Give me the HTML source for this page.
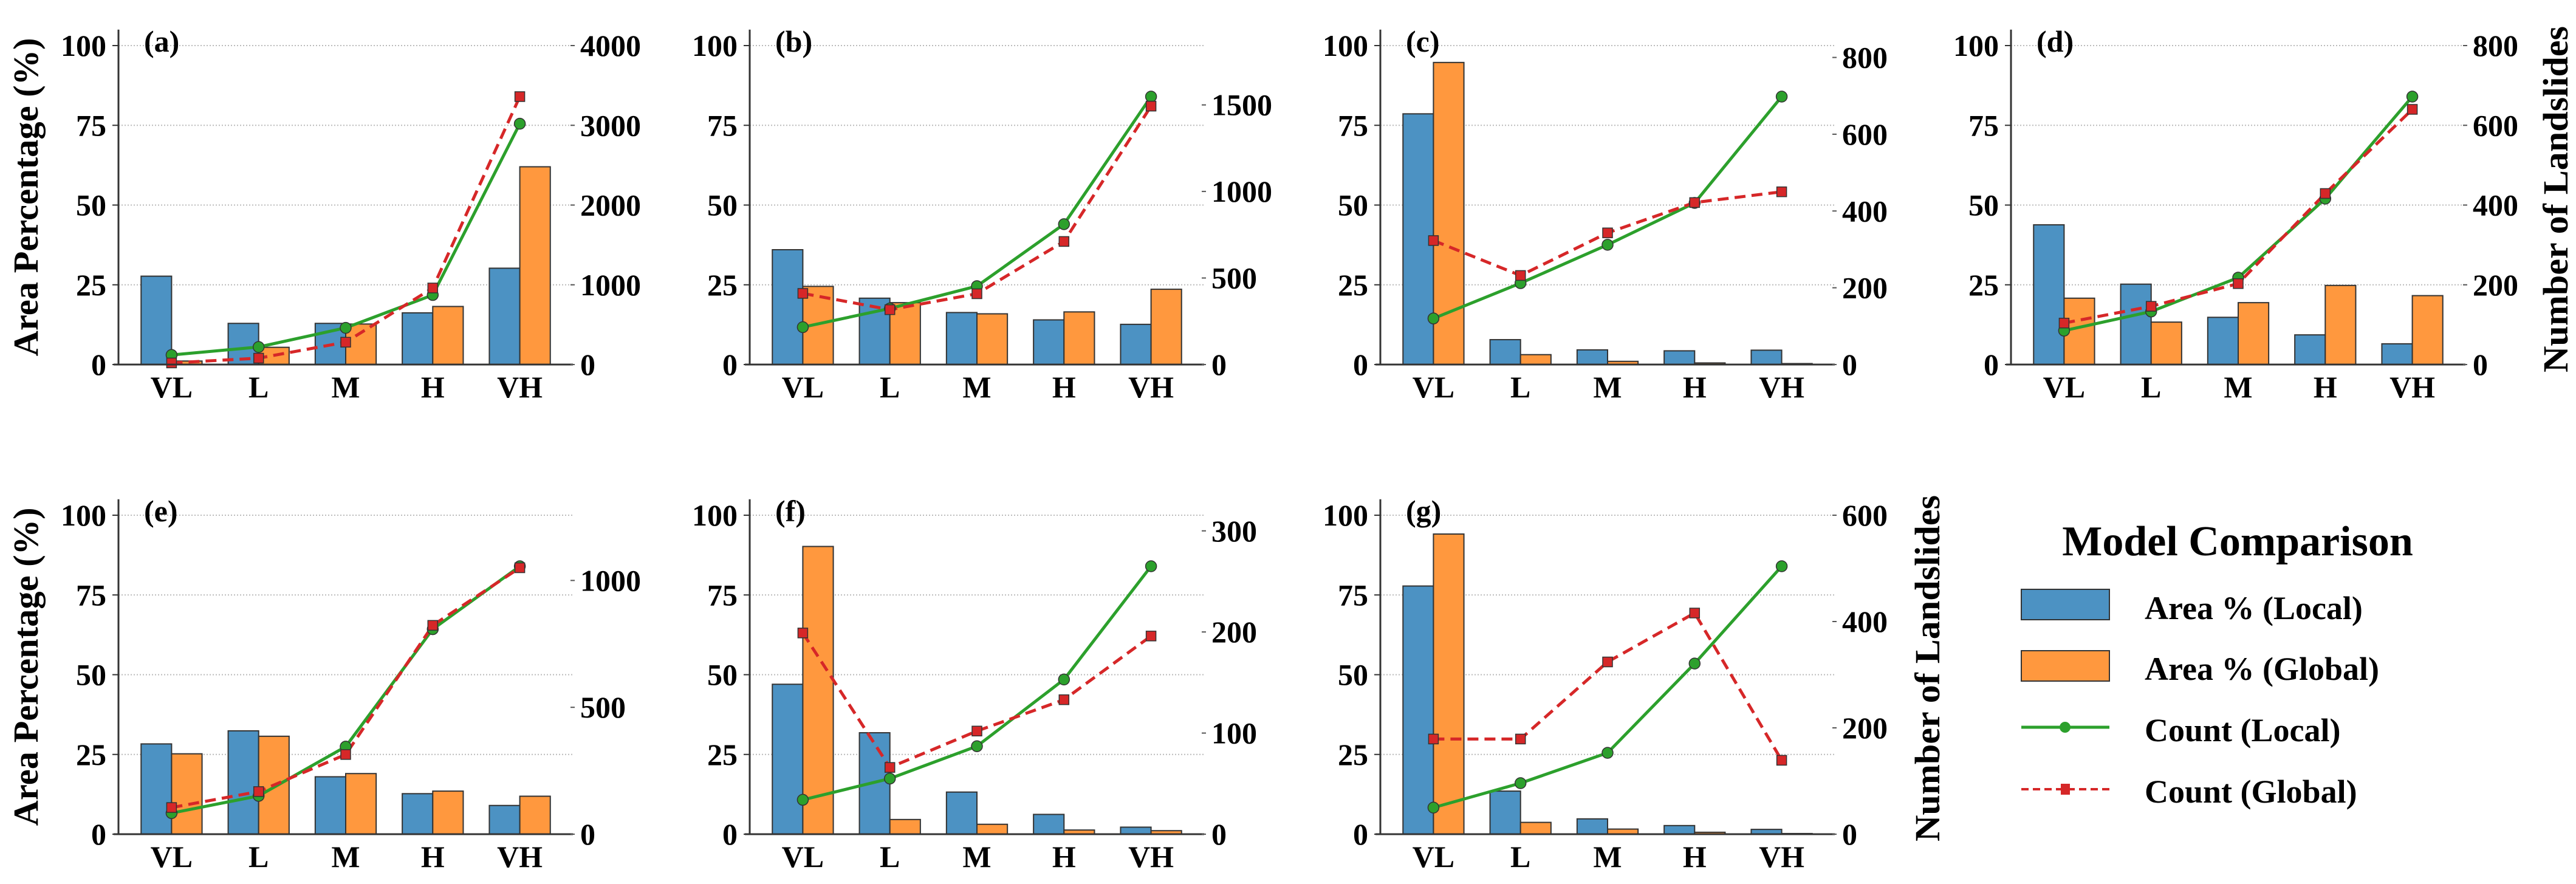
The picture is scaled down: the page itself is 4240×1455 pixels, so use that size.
<!DOCTYPE html>
<html><head><meta charset="utf-8"><style>
html,body{margin:0;padding:0;background:#fff;}
svg{display:block;font-family:"Liberation Serif",serif;font-weight:bold;}
</style></head><body>
<svg id="chart" xmlns="http://www.w3.org/2000/svg" width="4240" height="1455" viewBox="0 0 4240 1455">
<rect width="4240" height="1455" fill="#fff"/>
<g>
  <text x="3683" y="914" font-size="70" text-anchor="middle">Model Comparison</text>
  <rect x="3327" y="970" width="145" height="50" fill="#4c92c3" stroke="#333" stroke-width="2"/>
  <text x="3530" y="1019" font-size="54">Area % (Local)</text>
  <rect x="3327" y="1071" width="145" height="50" fill="#ff983e" stroke="#333" stroke-width="2"/>
  <text x="3530" y="1119" font-size="54">Area % (Global)</text>
  <line x1="3327" y1="1197" x2="3472" y2="1197" stroke="#2ca02c" stroke-width="5"/>
  <circle cx="3399" cy="1197" r="9" fill="#2ca02c"/>
  <text x="3530" y="1220" font-size="54">Count (Local)</text>
  <line x1="3327" y1="1299" x2="3472" y2="1299" stroke="#d62728" stroke-width="4" stroke-dasharray="12,7"/>
  <rect x="3392" y="1290" width="15" height="18" fill="#d62728"/>
  <text x="3530" y="1321" font-size="54">Count (Global)</text>
</g>
</svg>
<script>
const categories = ["VL","L","M","H","VH"];
const panelLabels = ["(a)","(b)","(c)","(d)","(e)","(f)","(g)"];
const areaLocal_a = [27.7,12.9,12.9,16.2,30.2];
const areaGlobal_a = [1.1,5.4,12.7,18.2,62];
const countLocal_a = [120,220,460,872,3020];
const countGlobal_a = [20,80,280,960,3360];
const rightTicks_a = [0,1000,2000,3000,4000];
const areaLocal_b = [36,20.8,16.3,14,12.6];
const areaGlobal_b = [24.5,19.4,15.9,16.5,23.6];
const countLocal_b = [216,324,453,811,1548];
const countGlobal_b = [411,317,409,711,1493];
const rightTicks_b = [0,500,1000,1500];
const areaLocal_c = [78.6,7.8,4.6,4.3,4.5];
const areaGlobal_c = [94.7,3.1,1.0,0.5,0.3];
const countLocal_c = [120,212,312,421,698];
const countGlobal_c = [323,232,343,422,450];
const rightTicks_c = [0,200,400,600,800];
const areaLocal_d = [43.8,25.2,14.8,9.3,6.5];
const areaGlobal_d = [20.8,13.3,19.4,24.8,21.6];
const countLocal_d = [85,133,218,416,672];
const countGlobal_d = [104,146,203,429,640];
const rightTicks_d = [0,200,400,600,800];
const areaLocal_e = [28.3,32.4,18,12.7,9];
const areaGlobal_e = [25.2,30.7,19,13.5,11.9];
const countLocal_e = [83,151,345,808,1056];
const countGlobal_e = [105,168,314,823,1050];
const rightTicks_e = [0,500,1000];
const areaLocal_f = [47,31.8,13.2,6.2,2.2];
const areaGlobal_f = [90.2,4.6,3.1,1.3,1.1];
const countLocal_f = [34,55,87,153,265];
const countGlobal_f = [199,66,102,133,196];
const rightTicks_f = [0,100,200,300];
const areaLocal_g = [77.8,13.5,4.8,2.7,1.5];
const areaGlobal_g = [94.1,3.7,1.6,0.6,0.2];
const countLocal_g = [50,96,153,321,504];
const countGlobal_g = [179,179,324,416,139];
const rightTicks_g = [0,200,400,600];
const leftTicks = [0,25,50,75,100];

const NS = "http://www.w3.org/2000/svg";
const svg = document.getElementById("chart");
function mk(tag, attrs, parent){const e=document.createElementNS(NS,tag);for(const k in attrs)e.setAttribute(k,attrs[k]);(parent||svg).appendChild(e);return e;}

const panels = [
 {x0:195,base:600,al:areaLocal_a,ag:areaGlobal_a,cl:countLocal_a,cg:countGlobal_a,rt:rightTicks_a},
 {x0:1234,base:600,al:areaLocal_b,ag:areaGlobal_b,cl:countLocal_b,cg:countGlobal_b,rt:rightTicks_b},
 {x0:2272,base:600,al:areaLocal_c,ag:areaGlobal_c,cl:countLocal_c,cg:countGlobal_c,rt:rightTicks_c},
 {x0:3310,base:600,al:areaLocal_d,ag:areaGlobal_d,cl:countLocal_d,cg:countGlobal_d,rt:rightTicks_d},
 {x0:195,base:1373,al:areaLocal_e,ag:areaGlobal_e,cl:countLocal_e,cg:countGlobal_e,rt:rightTicks_e},
 {x0:1234,base:1373,al:areaLocal_f,ag:areaGlobal_f,cl:countLocal_f,cg:countGlobal_f,rt:rightTicks_f},
 {x0:2272,base:1373,al:areaLocal_g,ag:areaGlobal_g,cl:countLocal_g,cg:countGlobal_g,rt:rightTicks_g}
];
const W = 748, PXU = 5.25, XMIN = -0.61, XSPAN = 5.22, BW = 0.35;

panels.forEach((p, pi) => {
  const g = mk("g", {});
  
  
  const xs = v => p.x0 + (v - XMIN) / XSPAN * W;
  const yl = v => p.base - v * PXU;
  const cmax = Math.max(...p.cl, ...p.cg);
  const rmax = cmax * 1.25;
  const yr = v => p.base - v / rmax * 105 * PXU;
  const top = yl(105);
  // grid
  leftTicks.slice(1).forEach(t => {
    const gl = mk("line", {x1:p.x0, x2:p.x0+W, y1:yl(t), y2:yl(t), stroke:"#bbb", "stroke-width":2, "stroke-dasharray":"2,3"}, g);
    
    
  });
  // bars
  categories.forEach((c, i) => {
    const b1 = mk("rect", {x:xs(i-BW), y:yl(p.al[i]), width:xs(BW)-xs(0), height:p.al[i]*PXU, fill:"#4c92c3", stroke:"#333", "stroke-width":2}, g);
    
    
    const b2 = mk("rect", {x:xs(i), y:yl(p.ag[i]), width:xs(BW)-xs(0), height:p.ag[i]*PXU, fill:"#ff983e", stroke:"#333", "stroke-width":2}, g);
    
    
  });
  // lines
  const pl = mk("polyline", {points:p.cl.map((v,i)=>xs(i)+","+yr(v)).join(" "), fill:"none", stroke:"#2ca02c", "stroke-width":5}, g);
  
  
  const pg = mk("polyline", {points:p.cg.map((v,i)=>xs(i)+","+yr(v)).join(" "), fill:"none", stroke:"#d62728", "stroke-width":5, "stroke-dasharray":"18,10"}, g);
  
  
  p.cl.forEach((v,i) => {
    const m = mk("circle", {cx:xs(i), cy:yr(v), r:9, fill:"#2ca02c", stroke:"#333", "stroke-width":1.5}, g);
    
    
  });
  p.cg.forEach((v,i) => {
    const m = mk("rect", {x:xs(i)-8, y:yr(v)-8, width:16, height:16, fill:"#d62728", stroke:"#333", "stroke-width":1.5}, g);
    
    
  });
  // spines
  const ls = mk("line", {x1:p.x0, x2:p.x0, y1:top, y2:p.base, stroke:"#333", "stroke-width":3}, g);
  
  
  const bs = mk("line", {x1:p.x0-8, x2:p.x0+W, y1:p.base, y2:p.base, stroke:"#333", "stroke-width":3}, g);
  
  
  // left ticks
  leftTicks.forEach(t => {
    mk("line", {x1:p.x0-10, x2:p.x0, y1:yl(t), y2:yl(t), stroke:"#333", "stroke-width":2}, g);
    const tl = mk("text", {x:p.x0-20, y:yl(t)+17, "font-size":50, "text-anchor":"end"}, g);
    tl.textContent = t;
    
    
  });
  // right ticks
  p.rt.forEach(t => {
    mk("line", {x1:p.x0+W-4, x2:p.x0+W+3, y1:yr(t), y2:yr(t), stroke:"#555", "stroke-width":2}, g);
    const tl = mk("text", {x:p.x0+W+12, y:yr(t)+17, "font-size":50}, g);
    tl.textContent = t;
    
    
  });
  // x ticks
  categories.forEach((c,i) => {
    const xl = mk("text", {x:xs(i), y:p.base+54, "font-size":50, "text-anchor":"middle"}, g);
    xl.textContent = c;
    
    
  });
  const lab = mk("text", {x:p.x0+42, y:top+36, "font-size":50}, g);
  lab.textContent = panelLabels[pi];
  
  
  if (pi === 0 || pi === 4) {
    const cy = (top + p.base) / 2 + 0;
    const yt = mk("text", {x:0, y:0, "font-size":58, "text-anchor":"middle", transform:`translate(62,${cy}) rotate(-90)`, textLength:524, lengthAdjust:"spacingAndGlyphs"}, g);
    yt.textContent = "Area Percentage (%)";
    
    
  }
  if (pi === 3 || pi === 6) {
    const cy = pi === 3 ? 328 : 1100;
    const cx = pi === 3 ? 4226 : 3192;
    const yt = mk("text", {x:0, y:0, "font-size":58, "text-anchor":"middle", transform:`translate(${cx},${cy}) rotate(-90)`, textLength:570, lengthAdjust:"spacingAndGlyphs"}, g);
    yt.textContent = "Number of Landslides";
    
    
  }
});
</script>
</body></html>
